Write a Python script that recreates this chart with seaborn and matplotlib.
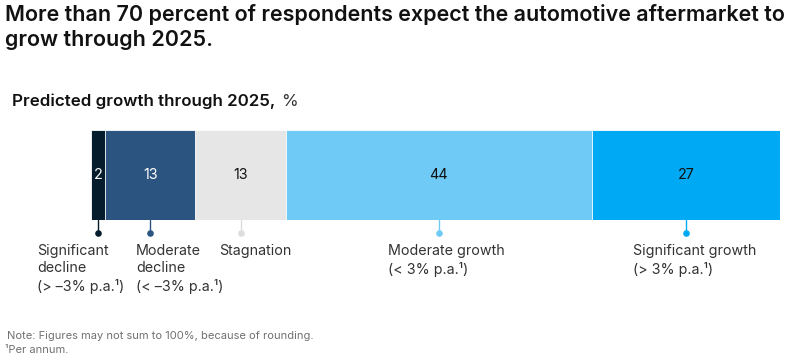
import numpy as np
import pandas as pd
import matplotlib.pyplot as plt
import seaborn as sns

# data
segments = ["Significant decline", "Moderate decline", "Stagnation",
            "Moderate growth", "Significant growth"]
values = [2, 13, 13, 44, 27]
labels = ["Significant\ndecline\n(> –3% p.a.¹)",
          "Moderate\ndecline\n(< –3% p.a.¹)",
          "Stagnation",
          "Moderate growth\n(< 3% p.a.¹)",
          "Significant growth\n(> 3% p.a.¹)"]

colors = ["#051C2C", "#2B5480", "#E6E6E6", "#6FCAF6", "#00A9F4"]
text_colors = ["white", "white", "#111111", "#111111", "#111111"]
# label left edge in pixels (layout only)
label_px = [37, 136, 219, 388, 633]

W, H = 806, 360
sns.set_theme(style="white")
plt.rcParams["font.family"] = ["Inter", "DejaVu Sans"]

fig = plt.figure(figsize=(W / 100, H / 100), dpi=100)

def fx(px):
    return px / W

def fy(py):
    return 1 - py / H

# bar axes: 91..780 px wide, 130..220 px tall
ax = fig.add_axes([fx(91), fy(220), (780 - 91) / W, 90 / H])

df = pd.DataFrame({"segment": segments, "value": values})
df["end"] = df["value"].cumsum()
df["start"] = df["end"] - df["value"]
df["row"] = ""

# overlay cumulative bars, largest first, to build the stack
for i in reversed(range(len(df))):
    sns.barplot(data=df.iloc[[i]], x="end", y="row", color=colors[i],
                width=1.0, edgecolor="white", linewidth=0.6,
                saturation=1, ax=ax)

total = df["end"].iloc[-1]
ax.set_xlim(0, total)
ax.set_ylim(0.5, -0.5)
ax.axis("off")

px_per_unit = (780 - 91) / total
for i, r in df.iterrows():
    mid = (r["start"] + r["end"]) / 2
    c = colors[i] if i != 2 else "#DDDDDD"
    ax.text(mid, 0, str(r["value"]), ha="center", va="center",
            fontsize=10.3, color=text_colors[i])
    # connector and dot below the bar
    ax.plot([mid, mid], [0.5, 0.5 + 13 / 90], color=c, lw=1, clip_on=False)
    ax.scatter([mid], [0.5 + 13 / 90], s=14, color=c, clip_on=False, zorder=5)
    lx = (label_px[i] - 91) / px_per_unit
    ax.text(lx, 0.5 + 24 / 90, labels[i], ha="left", va="top",
            fontsize=10.3, color="#333333", linespacing=1.3, clip_on=False)

fig.text(fx(5), fy(4), "More than 70 percent of respondents expect the automotive aftermarket to\ngrow through 2025.",
         ha="left", va="top", fontsize=15.5, fontweight="semibold", color="#111111",
         linespacing=1.3)
sub = fig.text(fx(12), fy(101), "Predicted growth through 2025,", ha="left", va="center",
               fontsize=12.2, fontweight="semibold", color="#111111")
fig.canvas.draw()
bb = sub.get_window_extent()
fig.text((bb.x1 + 6) / W, fy(101), "%", ha="left", va="center", fontsize=12.2, color="#333333")

fig.text(fx(7), fy(336), "Note: Figures may not sum to 100%, because of rounding.",
         ha="left", va="center", fontsize=8.0, color="#707070")
fig.text(fx(5), fy(350), "¹Per annum.", ha="left", va="center",
         fontsize=8.0, color="#707070")

fig.savefig("out.png", dpi=100)
